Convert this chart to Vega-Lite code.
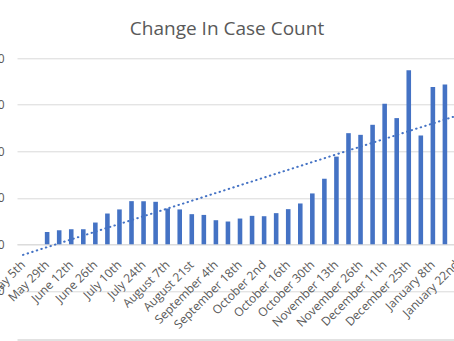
{
  "$schema": "https://vega.github.io/schema/vega-lite/v6.json",
  "width": 446,
  "height": 232.5,
  "autosize": {"type": "none"},
  "padding": {"left": 17, "top": 58.3, "right": -9, "bottom": 50.2},
  "background": "white",
  "config": {"font": "Open Sans", "view": {"stroke": null}},
  "title": {"text": "Change In Case Count", "fontSize": 19, "fontWeight": "normal", "color": "#595959", "anchor": "middle", "dx": -13, "baseline": "alphabetic", "offset": -2},
  "data": {"values": [
    {"date": "May 5th", "cases": 0, "trend": -114},
    {"date": "May 22nd", "cases": 0},
    {"date": "May 29th", "cases": 133},
    {"date": "June 5th", "cases": 151},
    {"date": "June 12th", "cases": 162},
    {"date": "June 19th", "cases": 162},
    {"date": "June 26th", "cases": 234},
    {"date": "July 3rd", "cases": 331},
    {"date": "July 10th", "cases": 375},
    {"date": "July 17th", "cases": 464},
    {"date": "July 24th", "cases": 464},
    {"date": "July 31st", "cases": 457},
    {"date": "August 7th", "cases": 385},
    {"date": "August 14th", "cases": 375},
    {"date": "August 21st", "cases": 324},
    {"date": "August 28th", "cases": 316},
    {"date": "September 4th", "cases": 259},
    {"date": "September 11th", "cases": 245},
    {"date": "September 18th", "cases": 277},
    {"date": "September 25th", "cases": 306},
    {"date": "October 2nd", "cases": 302},
    {"date": "October 9th", "cases": 335},
    {"date": "October 16th", "cases": 378},
    {"date": "October 23rd", "cases": 439},
    {"date": "October 30th", "cases": 547},
    {"date": "November 6th", "cases": 705},
    {"date": "November 13th", "cases": 943},
    {"date": "November 20th", "cases": 1195},
    {"date": "November 26th", "cases": 1177},
    {"date": "December 4th", "cases": 1285},
    {"date": "December 11th", "cases": 1512},
    {"date": "December 18th", "cases": 1357},
    {"date": "December 25th", "cases": 1871},
    {"date": "January 1st", "cases": 1170},
    {"date": "January 8th", "cases": 1692},
    {"date": "January 15th", "cases": 1717},
    {"date": "January 22nd", "cases": 1650, "trend": 1383}
  ]},
  "resolve": {"axis": {"x": "independent"}},
  "layer": [
    {
      "mark": {"type": "bar", "color": "#4472C4"},
      "encoding": {
        "x": {
          "field": "date", "type": "nominal", "sort": null,
          "scale": {"paddingInner": 0.62, "paddingOuter": 0.31},
          "axis": {
            "title": null,
            "values": ["May 5th", "May 29th", "June 12th", "June 26th", "July 10th", "July 24th", "August 7th", "August 21st", "September 4th", "September 18th", "October 2nd", "October 16th", "October 30th", "November 13th", "November 26th", "December 11th", "December 25th", "January 8th", "January 22nd"],
            "labelAngle": -45, "labelAlign": "right", "labelBaseline": "middle",
            "labelFontSize": 12, "labelColor": "#595959", "labelOverlap": false,
            "ticks": false, "domain": true, "domainColor": "#d9d9d9", "domainWidth": 1,
            "offset": -46.5, "labelPadding": 18, "grid": false
          }
        },
        "y": {
          "field": "cases", "type": "quantitative",
          "scale": {"domain": [-500, 2000], "nice": false},
          "axis": {"title": null, "values": [-500, 0, 500, 1000, 1500, 2000], "format": "d", "grid": true, "gridColor": "#d9d9d9", "gridWidth": 1, "domain": false, "ticks": false, "labelFontSize": 12, "labelColor": "#595959", "labelPadding": 13}
        }
      }
    },
    {
      "transform": [{"filter": "isValid(datum.trend)"}],
      "mark": {"type": "line", "color": "#4472C4", "strokeWidth": 2, "strokeCap": "round", "strokeDash": [0.5, 4.3]},
      "encoding": {
        "x": {
          "field": "date", "type": "nominal", "sort": null,
          "axis": {"orient": "top", "title": null, "labels": false, "ticks": false, "grid": false, "domain": true, "domainColor": "#d9d9d9", "domainWidth": 1.5, "offset": -281.2}
        },
        "y": {"field": "trend", "type": "quantitative"}
      }
    }
  ]
}
